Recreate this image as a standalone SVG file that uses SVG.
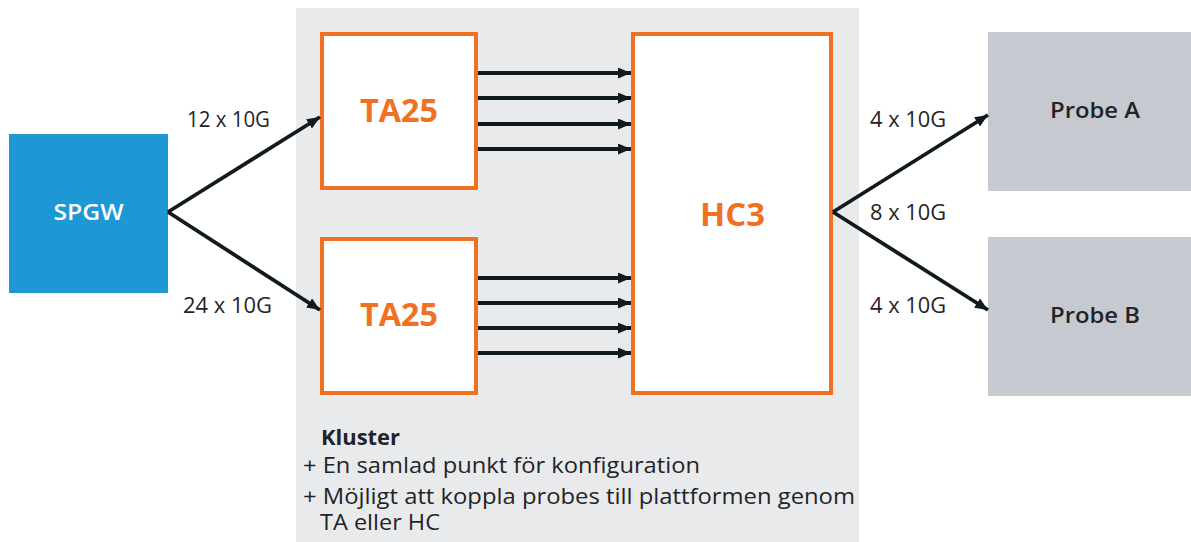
<svg xmlns="http://www.w3.org/2000/svg" width="1191" height="542" viewBox="0 0 1191 542">
<style>
text{font-family:"Open Sans","Liberation Sans",sans-serif}
.lbl{font-size:21px;fill:#1f2428}
.ta{font-weight:bold;font-size:33px;fill:#F07122;text-anchor:middle}
.obox{fill:#fff;stroke:#F07122;stroke-width:4}
.conn{stroke:#111a1f;stroke-width:3.8;fill:none;marker-end:url(#ah)}
.note{font-size:21px;fill:#1f2428}
.nm{font-weight:600;text-anchor:middle}
</style>
<defs>
<marker id="ah" viewBox="0 0 13 11" refX="13" refY="5.5" markerWidth="13" markerHeight="11" markerUnits="userSpaceOnUse" orient="auto">
<path d="M0,0 L13,5.5 L0,11 z" fill="#111a1f"/>
</marker>
</defs>
<g id="cluster">
<rect x="296" y="8" width="563" height="534" fill="#E9EAEC"/>
<text class="note" x="321" y="445" font-weight="bold" textLength="79" lengthAdjust="spacingAndGlyphs">Kluster</text>
<text class="note" x="303" y="473" textLength="397" lengthAdjust="spacingAndGlyphs">+ En samlad punkt för konfiguration</text>
<text class="note" x="303" y="504" textLength="552" lengthAdjust="spacingAndGlyphs">+ Möjligt att koppla probes till plattformen genom</text>
<text class="note" x="320" y="530" textLength="120" lengthAdjust="spacingAndGlyphs">TA eller HC</text>
</g>
<g id="spgw">
<rect x="9" y="134" width="159" height="159" fill="#1E98D5"/>
<text class="nm" x="88.5" y="220" font-size="22" fill="#fff" textLength="70" lengthAdjust="spacingAndGlyphs">SPGW</text>
</g>
<g id="ta25a">
<rect class="obox" x="322" y="34" width="154" height="154"/>
<text class="ta" x="399" y="121.5" textLength="78" lengthAdjust="spacingAndGlyphs">TA25</text>
</g>
<g id="ta25b">
<rect class="obox" x="322" y="239" width="154" height="154"/>
<text class="ta" x="399" y="326" textLength="78" lengthAdjust="spacingAndGlyphs">TA25</text>
</g>
<g id="hc3">
<rect class="obox" x="633" y="34" width="198" height="359"/>
<text class="ta" x="732.5" y="226" textLength="65" lengthAdjust="spacingAndGlyphs">HC3</text>
</g>
<g id="probeA">
<rect x="988" y="32" width="203" height="159" fill="#C6C9D0"/>
<text class="nm" x="1095" y="118" font-size="21.5" fill="#1f2428" textLength="90" lengthAdjust="spacingAndGlyphs">Probe A</text>
</g>
<g id="probeB">
<rect x="988" y="237" width="203" height="159" fill="#C6C9D0"/>
<text class="nm" x="1095" y="323" font-size="21.5" fill="#1f2428" textLength="90" lengthAdjust="spacingAndGlyphs">Probe B</text>
</g>
<g id="connectors">
<line class="conn" x1="168" y1="212" x2="320" y2="117"/>
<line class="conn" x1="168" y1="212" x2="320" y2="310"/>
<line class="conn" x1="833" y1="212" x2="988" y2="115"/>
<line class="conn" x1="833" y1="212" x2="988" y2="310"/>
<line class="conn" x1="478" y1="73" x2="631" y2="73"/>
<line class="conn" x1="478" y1="98" x2="631" y2="98"/>
<line class="conn" x1="478" y1="124" x2="631" y2="124"/>
<line class="conn" x1="478" y1="149" x2="631" y2="149"/>
<line class="conn" x1="478" y1="278" x2="631" y2="278"/>
<line class="conn" x1="478" y1="303" x2="631" y2="303"/>
<line class="conn" x1="478" y1="328" x2="631" y2="328"/>
<line class="conn" x1="478" y1="353" x2="631" y2="353"/>
<text class="lbl" x="187" y="127" textLength="83" lengthAdjust="spacingAndGlyphs">12 x 10G</text>
<text class="lbl" x="183" y="313" textLength="89" lengthAdjust="spacingAndGlyphs">24 x 10G</text>
<text class="lbl" x="870" y="127" textLength="76" lengthAdjust="spacingAndGlyphs">4 x 10G</text>
<text class="lbl" x="870" y="220" textLength="76" lengthAdjust="spacingAndGlyphs">8 x 10G</text>
<text class="lbl" x="870" y="313" textLength="76" lengthAdjust="spacingAndGlyphs">4 x 10G</text>
</g>
</svg>
